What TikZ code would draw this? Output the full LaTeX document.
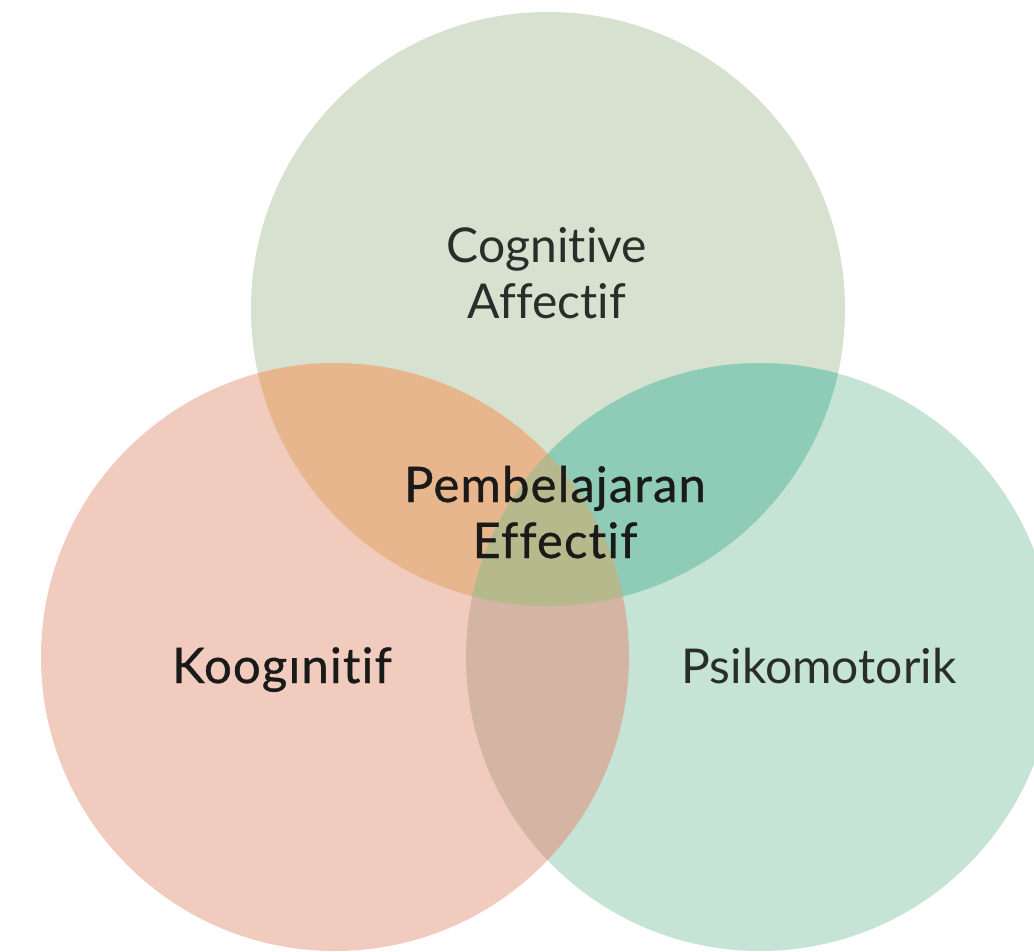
\documentclass[tikz,border=0pt]{standalone}
\usepackage{fontspec}
\setmainfont{Lato}[Ligatures={NoCommon,NoDiscretionary}]
\newfontfamily\medfont{Lato}[FakeBold=0.7,LetterSpace=2.4,Ligatures={NoCommon,NoDiscretionary}]
\definecolor{cTop}{HTML}{D6E2CF}
\definecolor{cLeft}{HTML}{F2CBBF}
\definecolor{cRight}{HTML}{C5E4D5}
\definecolor{cTL}{HTML}{E8B68C}
\definecolor{cTR}{HTML}{8ECCB8}
\definecolor{cLR}{HTML}{D4B4A2}
\definecolor{cAll}{HTML}{B6B98B}
\definecolor{txtA}{HTML}{2A2E2A}
\definecolor{txtB}{HTML}{1A1A18}
\begin{document}
\begin{tikzpicture}[x=1pt,y=-1pt,
  lbl/.style={inner sep=0pt,anchor=base,text=txtA,font=\fontsize{48}{54}\selectfont},
  mlbl/.style={inner sep=0pt,anchor=base,text=txtB,font=\medfont\fontsize{49}{54}\selectfont}]
\useasboundingbox (0,0) rectangle (1034,951);
\fill[white] (0,0) rectangle (1034,951);
\def\Tc{(548,309) circle (297)}
\def\Lc{(335,657) circle (294)}
\def\Rc{(760,657) circle (294)}
\fill[cTop] \Tc;
\fill[cLeft] \Lc;
\fill[cRight] \Rc;
\begin{scope}\clip \Tc; \fill[cTL] \Lc; \end{scope}
\begin{scope}\clip \Tc; \fill[cTR] \Rc; \end{scope}
\begin{scope}\clip \Lc; \fill[cLR] \Rc; \end{scope}
\begin{scope}\clip \Tc; \clip \Lc; \fill[cAll] \Rc; \end{scope}
\node[lbl] (cog) at (547,262) {Cognitive};
\node[lbl] (aff) at (547,318) {Affectif};
\node[mlbl] (pem) at (555,502) {Pembelajaran};
\node[mlbl] (eff) at (555,558) {Effectif};
\node[mlbl] (koo) at (282,683) {Koogınitif};
\node[lbl] (psi) at (819,683) {Psikomotorik};
\end{tikzpicture}
\end{document}
